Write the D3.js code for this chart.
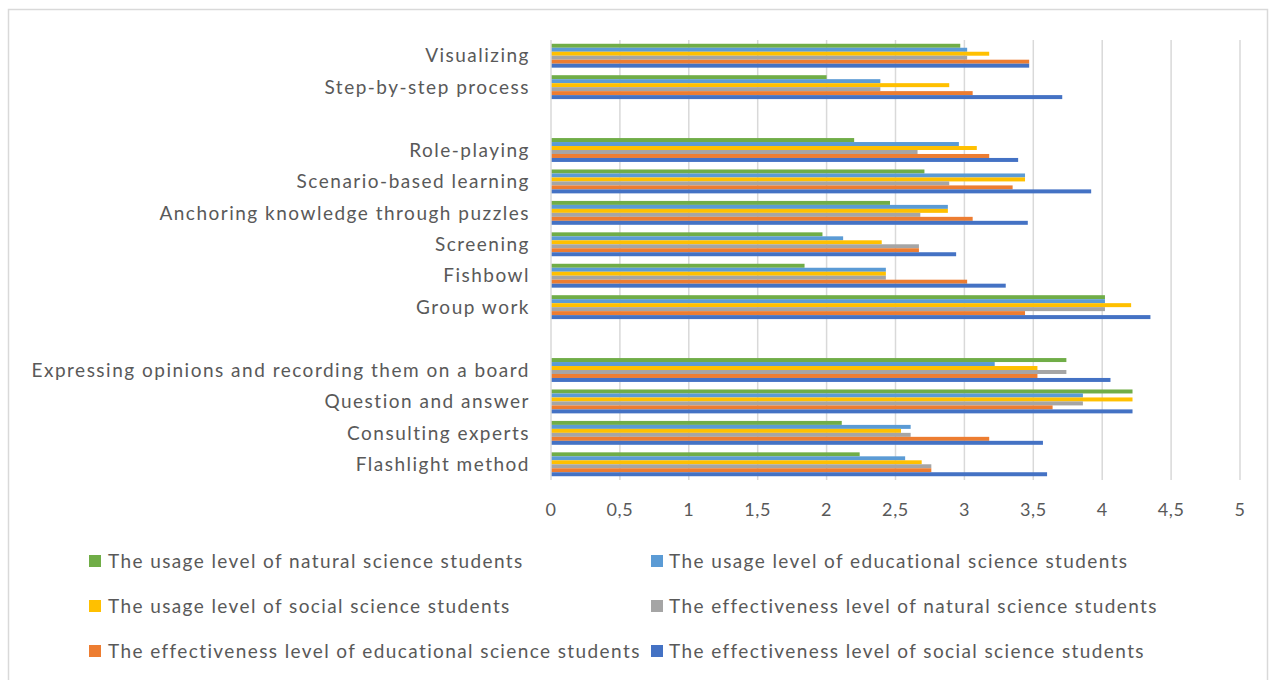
<!DOCTYPE html>
<html><head><meta charset="utf-8">
<script src="https://cdn.jsdelivr.net/npm/d3@7/dist/d3.min.js"></script>
<style>body{margin:0;background:#fff}svg{display:block}text{font-family:Lato,"Open Sans",sans-serif;fill:#595959}</style>
</head><body><svg id="c" width="1276" height="680"></svg>
<script>
const categories = ["Visualizing","Step-by-step process","","Role-playing","Scenario-based learning","Anchoring knowledge through puzzles","Screening","Fishbowl","Group work"," ","Expressing opinions and recording them on a board","Question and answer","Consulting experts","Flashlight method"];
const seriesNames = ["The usage level of natural science students","The usage level of educational science students","The usage level of social science students","The effectiveness level of natural science students","The effectiveness level of educational science students","The effectiveness level of social science students"];
const seriesColors = ["#70AD47","#5B9BD5","#FFC000","#A5A5A5","#ED7D31","#4472C4"];
const natUsage = [2.97, 2.00, null, 2.20, 2.71, 2.46, 1.97, 1.84, 4.02, null, 3.74, 4.22, 2.11, 2.24];
const eduUsage = [3.02, 2.39, null, 2.96, 3.44, 2.88, 2.12, 2.43, 4.02, null, 3.22, 3.86, 2.61, 2.57];
const socUsage = [3.18, 2.89, null, 3.09, 3.44, 2.88, 2.40, 2.43, 4.21, null, 3.53, 4.22, 2.54, 2.69];
const natEff   = [3.02, 2.39, null, 2.66, 2.89, 2.68, 2.67, 2.43, 4.02, null, 3.74, 3.86, 2.61, 2.76];
const eduEff   = [3.47, 3.06, null, 3.18, 3.35, 3.06, 2.67, 3.02, 3.44, null, 3.53, 3.64, 3.18, 2.76];
const socEff   = [3.47, 3.71, null, 3.39, 3.92, 3.46, 2.94, 3.30, 4.35, null, 4.06, 4.22, 3.57, 3.60];
const tickValues = [0,0.5,1,1.5,2,2.5,3,3.5,4,4.5,5];
const tickLabels = ["0","0,5","1","1,5","2","2,5","3","3,5","4","4,5","5"];

const allSeries = [natUsage, eduUsage, socUsage, natEff, eduEff, socEff];
const svg = d3.select("#c");
svg.append("rect").attr("x",8.5).attr("y",9.5).attr("width",1259).attr("height",680).attr("fill","none").attr("stroke","#d9d9d9").attr("stroke-width",1.5);

const x = d3.scaleLinear().domain([0,5]).range([551,1240]);
const y = d3.scaleBand().domain(categories).range([40,480]).paddingInner(0.24).paddingOuter(0.12);
const yi = d3.scaleBand().domain(d3.range(6)).range([0,y.bandwidth()]);
const yFull = d3.scaleBand().domain(categories).range([40,480]);

// gridlines
svg.append("g").selectAll("line").data(tickValues.slice(1)).join("line")
  .attr("x1",d=>x(d)).attr("x2",d=>x(d)).attr("y1",40).attr("y2",480)
  .attr("stroke","#d9d9d9").attr("stroke-width",1.5);

// bars
const g = svg.append("g");
allSeries.forEach((s,si)=>{
  g.append("g").selectAll("rect").data(categories.map((c,i)=>({c,v:s[i]})).filter(d=>d.v!=null)).join("rect")
    .attr("x",x(0)).attr("y",d=>y(d.c)+yi(si)).attr("width",d=>x(d.v)-x(0)).attr("height",yi.bandwidth())
    .attr("fill",seriesColors[si]);
});

// y axis line
svg.append("line").attr("x1",x(0)).attr("x2",x(0)).attr("y1",40).attr("y2",480).attr("stroke","#d9d9d9").attr("stroke-width",1.5);

// category labels
svg.append("g").selectAll("text").data(categories).join("text")
  .attr("x",530).attr("y",d=>yFull(d)+yFull.bandwidth()/2).attr("dy","0.35em")
  .attr("text-anchor","end").style("font-size","19px").style("letter-spacing","1.5px").text(d=>d.trim());

// x tick labels
svg.append("g").selectAll("text").data(tickValues).join("text")
  .attr("x",d=>x(d)).attr("y",510).attr("dy","0.35em").attr("text-anchor","middle")
  .style("font-size","18px").style("letter-spacing","0.6px").text((d,i)=>tickLabels[i]);

// legend
const legX = [[89,108],[651,669]];
const legY = [561,606,651];
const leg = svg.append("g");
seriesNames.forEach((n,i)=>{
  const col=i%2,row=Math.floor(i/2);
  leg.append("rect").attr("x",legX[col][0]).attr("y",legY[row]-6).attr("width",12).attr("height",12).attr("fill",seriesColors[i]);
  leg.append("text").attr("x",legX[col][1]).attr("y",legY[row]).attr("dy","0.35em").style("font-size","19px").style("letter-spacing","1.4px").text(n);
});
</script></body></html>
